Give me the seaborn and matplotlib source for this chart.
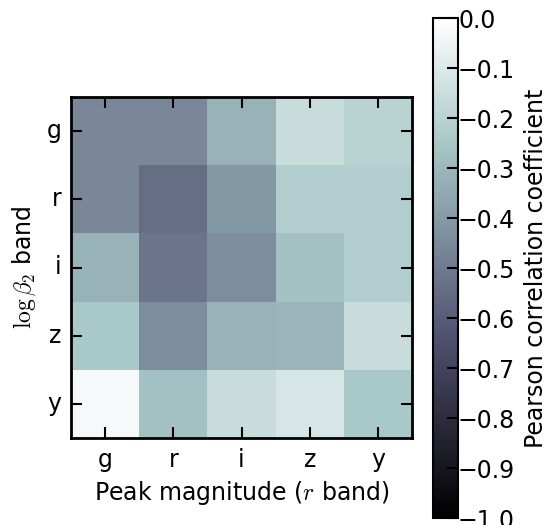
import matplotlib
matplotlib.use("Agg")
import matplotlib.pyplot as plt
import seaborn as sns
import pandas as pd

bands = ["g", "r", "i", "z", "y"]
# rows: log beta_2 band, columns: peak magnitude band
row_g = [-0.46, -0.46, -0.32, -0.16, -0.20]
row_r = [-0.46, -0.54, -0.41, -0.22, -0.22]
row_i = [-0.32, -0.52, -0.44, -0.27, -0.22]
row_z = [-0.25, -0.44, -0.32, -0.31, -0.16]
row_y = [-0.03, -0.27, -0.16, -0.12, -0.25]

corr = pd.DataFrame([row_g, row_r, row_i, row_z, row_y], index=bands, columns=bands)

plt.rcParams["mathtext.fontset"] = "cm"
plt.rcParams["font.family"] = "DejaVu Sans"

fig = plt.figure(figsize=(5.57, 5.25), dpi=100)
ax = fig.add_axes([71 / 557, 87 / 525, 341 / 557, 341 / 525])
cax = fig.add_axes([433 / 557, 7 / 525, 25 / 557, 500 / 525])

sns.heatmap(corr, ax=ax, cbar_ax=cax, cmap="bone", vmin=-1, vmax=0,
            square=False, linewidths=0)

fs = 17
for s in ax.spines.values():
    s.set_visible(True)
    s.set_linewidth(2)
ax.tick_params(direction="in", length=8, width=1.5, labelsize=fs,
               top=True, right=True, pad=7)
ax.set_yticklabels(bands, rotation=0)
ax.set_xticklabels(bands, rotation=0)
ax.set_xlabel("Peak magnitude ($r$ band)", fontsize=fs, labelpad=5)
ax.set_ylabel(r"$\log\beta_2$ band", fontsize=fs, labelpad=6)

cbar = ax.collections[0].colorbar
cbar.set_ticks([-1.0, -0.9, -0.8, -0.7, -0.6, -0.5, -0.4, -0.3, -0.2, -0.1, 0.0])
cbar.outline.set_visible(True)
cbar.outline.set_linewidth(1.5)
cax.tick_params(direction="in", length=8, width=1.5, labelsize=fs, pad=0)
cbar.set_label("Pearson correlation coefficient", fontsize=fs, labelpad=6)

fig.savefig("out.png", dpi=100)
